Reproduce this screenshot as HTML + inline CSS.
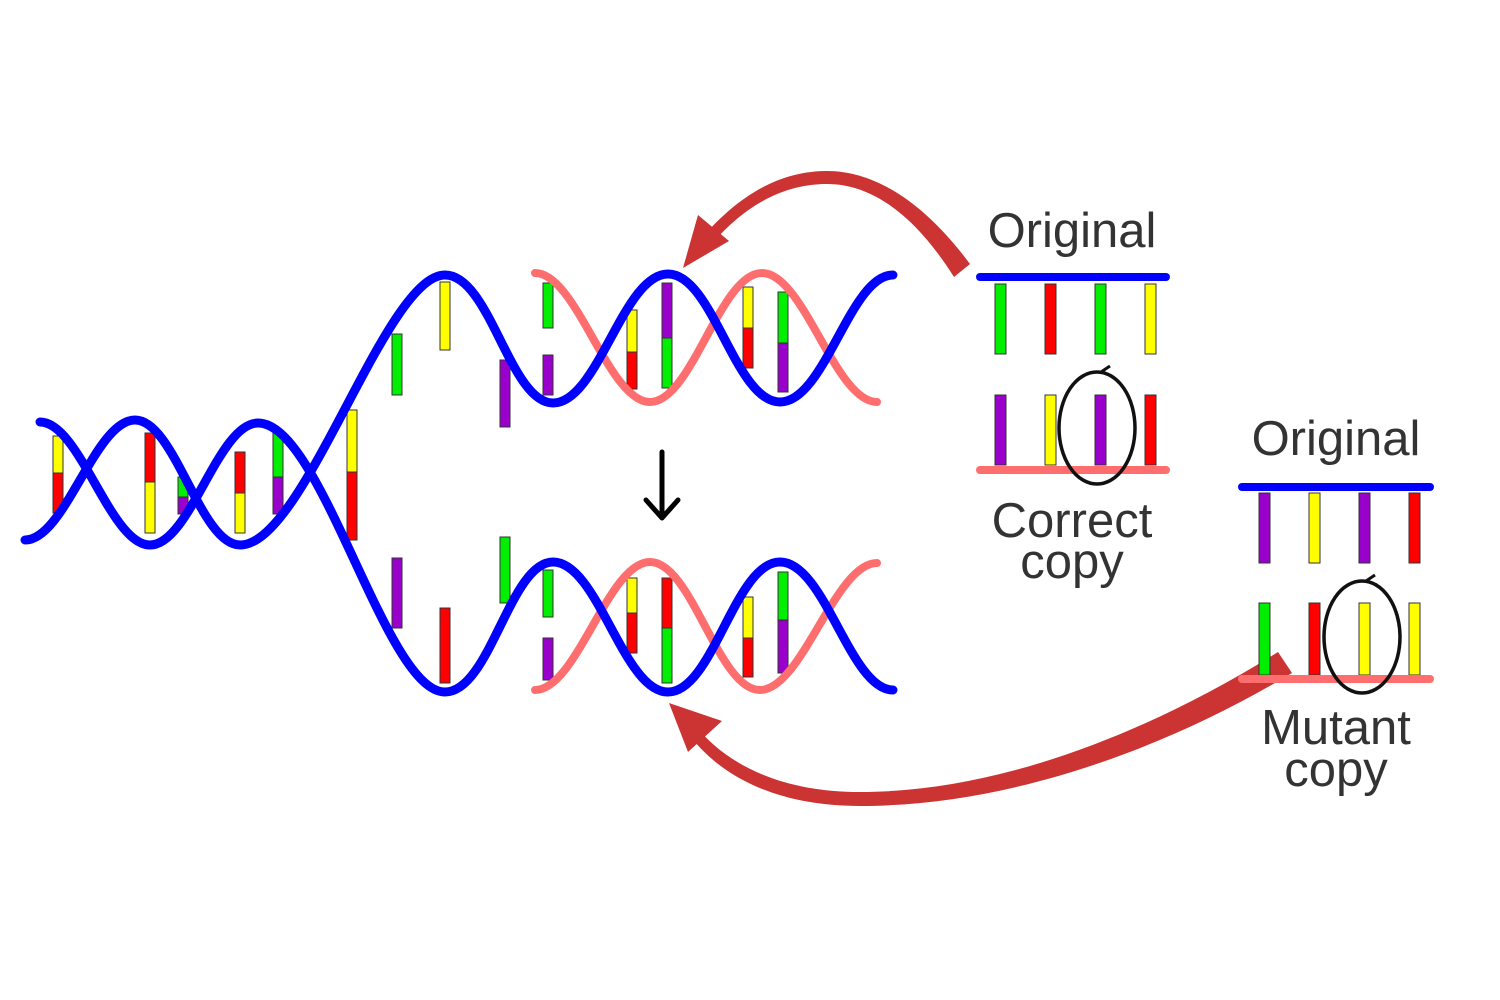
<!DOCTYPE html>
<html><head><meta charset="utf-8"><style>
html,body{margin:0;padding:0;background:#fff;}
svg{display:block;}
text{font-family:"Liberation Sans",sans-serif;fill:#333;}
</style></head><body>
<svg width="1500" height="1000" viewBox="0 0 1500 1000" xmlns="http://www.w3.org/2000/svg">
<rect width="1500" height="1000" fill="#fff"/>
<g stroke="#333" stroke-width="1">
<!-- left helix bars -->
<rect x="53" y="436" width="10" height="37" fill="#ffff00"/><rect x="53" y="473" width="10" height="40" fill="#ff0000"/>
<rect x="145" y="433" width="10" height="49" fill="#ff0000"/><rect x="145" y="482" width="10" height="51" fill="#ffff00"/>
<rect x="178" y="477" width="10" height="20" fill="#00ee00"/><rect x="178" y="497" width="10" height="17" fill="#9900cc"/>
<rect x="235" y="452" width="10" height="41" fill="#ff0000"/><rect x="235" y="493" width="10" height="40" fill="#ffff00"/>
<rect x="273" y="432" width="10" height="45" fill="#00ee00"/><rect x="273" y="477" width="10" height="37" fill="#9900cc"/>
<rect x="347" y="410" width="10" height="62" fill="#ffff00"/><rect x="347" y="472" width="10" height="68" fill="#ff0000"/>
<!-- fork bars -->
<rect x="392" y="334" width="10" height="61" fill="#00ee00"/>
<rect x="440" y="282" width="10" height="68" fill="#ffff00"/>
<rect x="500" y="360" width="10" height="67" fill="#9900cc"/>
<rect x="392" y="558" width="10" height="70" fill="#9900cc"/>
<rect x="440" y="608" width="10" height="75" fill="#ff0000"/>
<rect x="500" y="537" width="10" height="66" fill="#00ee00"/>
<!-- upper right helix bars -->
<rect x="543" y="283" width="10" height="45" fill="#00ee00"/><rect x="543" y="355" width="10" height="40" fill="#9900cc"/>
<rect x="627" y="310" width="10" height="42" fill="#ffff00"/><rect x="627" y="352" width="10" height="37" fill="#ff0000"/>
<rect x="662" y="283" width="10" height="55" fill="#9900cc"/><rect x="662" y="338" width="10" height="50" fill="#00ee00"/>
<rect x="743" y="287" width="10" height="41" fill="#ffff00"/><rect x="743" y="328" width="10" height="40" fill="#ff0000"/>
<rect x="778" y="292" width="10" height="51" fill="#00ee00"/><rect x="778" y="343" width="10" height="49" fill="#9900cc"/>
<!-- lower right helix bars -->
<rect x="543" y="570" width="10" height="47" fill="#00ee00"/><rect x="543" y="638" width="10" height="42" fill="#9900cc"/>
<rect x="627" y="578" width="10" height="35" fill="#ffff00"/><rect x="627" y="613" width="10" height="40" fill="#ff0000"/>
<rect x="662" y="578" width="10" height="50" fill="#ff0000"/><rect x="662" y="628" width="10" height="55" fill="#00ee00"/>
<rect x="743" y="597" width="10" height="41" fill="#ffff00"/><rect x="743" y="638" width="10" height="39" fill="#ff0000"/>
<rect x="778" y="572" width="10" height="48" fill="#00ee00"/><rect x="778" y="620" width="10" height="53" fill="#9900cc"/>
</g>
<g fill="none" stroke-linecap="round">
<!-- pink strands -->
<path d="M535,273 C577,273 608,402 650,402 C692,402 720,273 762,273 C804,273 835,402 877,402" stroke="#ff6e6e" stroke-width="8"/>
<path d="M535,690 C577,690 608,562 650,562 C692,562 718,690 760,690 C802,690 835,563 877,563" stroke="#ff6e6e" stroke-width="8"/>
<!-- blue strands -->
<path d="M40,422 C80,422 110,545 150,545 C190,545 218,423 258,423 C322,423 385,692 445,692 C490,692 510,562 553,562 C598,562 623,692 668,692 C713,692 735,562 780,562 C825,562 850,690 893,690" stroke="#0000ff" stroke-width="9"/>
<path d="M25,540 C65,540 95,420 135,420 C175,420 200,545 240,545 C305,545 385,275 445,275 C490,275 510,403 553,403 C598,403 623,274 668,274 C713,274 735,402 780,402 C825,402 850,275 893,275" stroke="#0000ff" stroke-width="9"/>
</g>
<!-- black arrow -->
<g stroke="#000" stroke-width="5" fill="none" stroke-linecap="round" stroke-linejoin="round">
<line x1="662" y1="452" x2="662" y2="516"/>
<polyline points="646,500 662,518 678,500"/>
</g>
<!-- red arrows -->
<g fill="#cc3333">
<path d="M970,264 C930,210 880,170 825,171 C770,172 730,205 700,240 L709,247 C738,213 775,185 825,184 C875,183 918,220 954,277 Z"/>
<polygon points="683,268 698,215 729,241"/>
<path d="M1278,652 C1150,732 1000,792 860,792 C782,792 726,765 694,724 L687,732 C722,780 782,806 860,806 C1005,806 1160,752 1292,673 Z"/>
<polygon points="669,703 722,721 688,752"/>
</g>
<!-- correct copy box -->
<text x="1072" y="247" font-size="49" text-anchor="middle">Original</text>
<line x1="980" y1="277" x2="1166" y2="277" stroke="#0000ff" stroke-width="8" stroke-linecap="round"/>
<g stroke="#333" stroke-width="1">
<rect x="995" y="284" width="11" height="70" fill="#00ee00"/>
<rect x="1045" y="284" width="11" height="70" fill="#ff0000"/>
<rect x="1095" y="284" width="11" height="70" fill="#00ee00"/>
<rect x="1145" y="284" width="11" height="70" fill="#ffff00"/>
<rect x="995" y="395" width="11" height="70" fill="#9900cc"/>
<rect x="1045" y="395" width="11" height="70" fill="#ffff00"/>
<rect x="1095" y="395" width="11" height="70" fill="#9900cc"/>
<rect x="1145" y="395" width="11" height="70" fill="#ff0000"/>
</g>
<line x1="980" y1="470" x2="1166" y2="470" stroke="#ff6e6e" stroke-width="8" stroke-linecap="round"/>
<ellipse cx="1097" cy="428" rx="38" ry="56" fill="none" stroke="#111" stroke-width="3.5"/>
<polyline points="1110,366 1101,372 1112,376" fill="none" stroke="#111" stroke-width="3"/>
<text x="1072" y="537" font-size="49" text-anchor="middle">Correct</text>
<text x="1072" y="578" font-size="49" text-anchor="middle">copy</text>
<!-- mutant copy box -->
<text x="1336" y="455" font-size="49" text-anchor="middle">Original</text>
<line x1="1242" y1="487" x2="1430" y2="487" stroke="#0000ff" stroke-width="8" stroke-linecap="round"/>
<g stroke="#333" stroke-width="1">
<rect x="1259" y="493" width="11" height="70" fill="#9900cc"/>
<rect x="1309" y="493" width="11" height="70" fill="#ffff00"/>
<rect x="1359" y="493" width="11" height="70" fill="#9900cc"/>
<rect x="1409" y="493" width="11" height="70" fill="#ff0000"/>
<rect x="1259" y="603" width="11" height="72" fill="#00ee00"/>
<rect x="1309" y="603" width="11" height="72" fill="#ff0000"/>
<rect x="1359" y="603" width="11" height="72" fill="#ffff00"/>
<rect x="1409" y="603" width="11" height="72" fill="#ffff00"/>
</g>
<line x1="1242" y1="679" x2="1430" y2="679" stroke="#ff6e6e" stroke-width="8" stroke-linecap="round"/>
<ellipse cx="1362" cy="637" rx="38" ry="56" fill="none" stroke="#111" stroke-width="3.5"/>
<polyline points="1375,575 1366,581 1377,585" fill="none" stroke="#111" stroke-width="3"/>
<text x="1336" y="744" font-size="49" text-anchor="middle">Mutant</text>
<text x="1336" y="786" font-size="49" text-anchor="middle">copy</text>
</svg>
</body></html>
